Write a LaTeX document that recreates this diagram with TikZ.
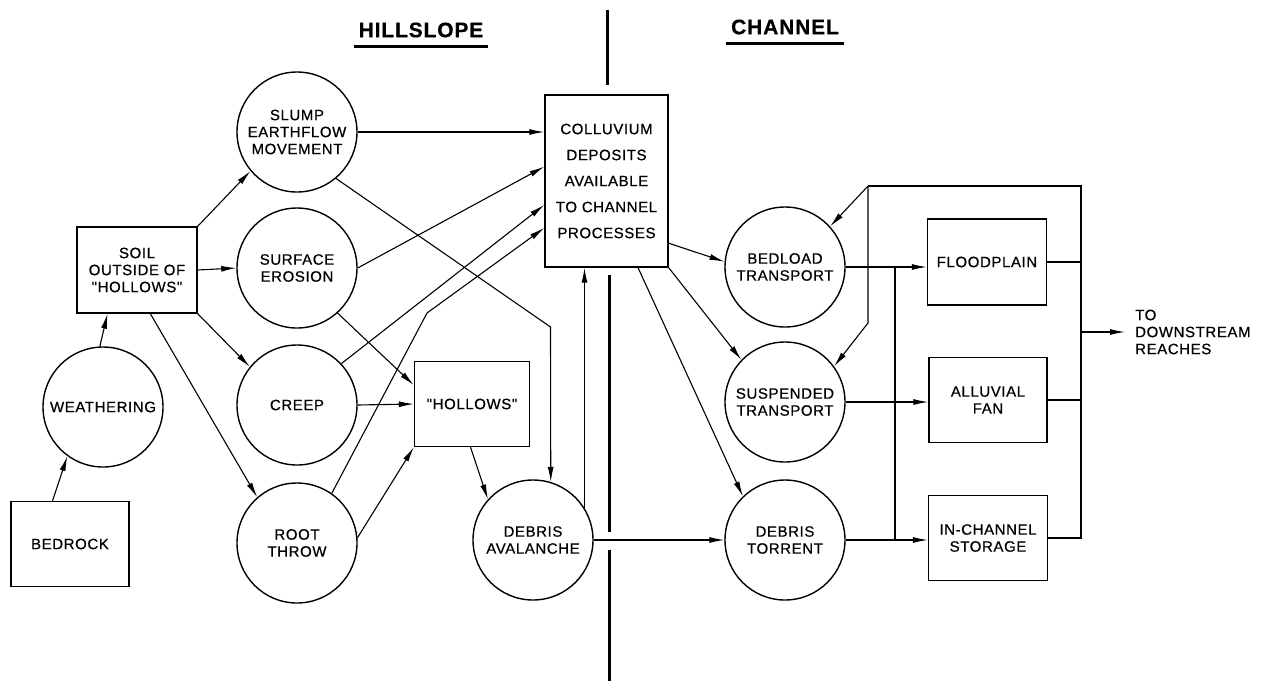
\documentclass[tikz,border=0pt]{standalone}
\usepackage{fontspec}
\newfontfamily\lettering[LetterSpace=4,FakeBold=0.6]{Liberation Sans}
\usetikzlibrary{arrows.meta}
\tikzset{
	proc/.style={draw, circle, line width=1.4pt, minimum size=120pt, inner sep=0pt, align=center, font=\lettering\fontsize{15}{17}\selectfont},
	store/.style={draw, rectangle, line width=1.4pt, inner sep=0pt, align=center, font=\lettering\fontsize{15}{17}\selectfont},
	flow/.style={line width=1.1pt, -{Latex[length=15pt,width=6pt]}},
	link/.style={line width=1.1pt},
	head/.style={inner xsep=5pt, inner ysep=9pt, font=\lettering\bfseries\fontsize{21}{24}\selectfont},
	bar/.style={line width=3pt},
}

\begin{document}
\begin{tikzpicture}[x=1pt,y=-1pt]
			\useasboundingbox (0,0) rectangle (1267,681);

			\node[head] (hill) at (421,30) {HILLSLOPE};
			\node[head] (chan) at (785,27) {CHANNEL};
			\draw[bar, line width=2.5pt] (hill.south west) -- (hill.south east);
			\draw[bar, line width=2.5pt] (chan.south west) -- (chan.south east);

			\draw[bar] (607,10) -- (607,85);
			\draw[bar] (609,275) -- (609,532);
			\draw[bar] (609,550) -- (609,681);

			\node[store, minimum width=118pt, minimum height=85pt] (bedrock) at (70,544) {BEDROCK};
			\node[proc] (weath) at (103,407) {WEATHERING};
			\node[store, minimum width=120pt, minimum height=86pt] (soil) at (137,270) {SOIL\\OUTSIDE OF\\"HOLLOWS"};
			\node[proc] (slump) at (297,132) {SLUMP\\EARTHFLOW\\MOVEMENT};
			\node[proc] (erosion) at (297,268) {SURFACE\\EROSION};
			\node[proc] (creep) at (297,405) {CREEP};
			\node[proc] (root) at (297,543) {ROOT\\THROW};
			\node[store, minimum width=115pt, minimum height=85pt] (hollows) at (472,404) {"HOLLOWS"};
			\node[proc] (aval) at (533,540) {DEBRIS\\AVALANCHE};
			\node[store, minimum width=123pt, minimum height=172pt, font=\lettering\fontsize{15}{26}\selectfont] (coll) at (606.5,181) {COLLUVIUM\\DEPOSITS\\AVAILABLE\\TO CHANNEL\\PROCESSES};

			\node[proc] (bedload) at (785,267) {BEDLOAD\\TRANSPORT};
			\node[proc] (susp) at (785,402) {SUSPENDED\\TRANSPORT};
			\node[proc] (torrent) at (785,540) {DEBRIS\\TORRENT};
			\node[store, minimum width=119pt, minimum height=86pt] (flood) at (987,262) {FLOODPLAIN};
			\node[store, minimum width=118pt, minimum height=85pt] (fan) at (988,400) {ALLUVIAL\\FAN};
			\node[store, minimum width=119pt, minimum height=85pt] (instore) at (988,538) {IN-CHANNEL\\STORAGE};
			\node[anchor=west, align=left, inner xsep=10pt, font=\lettering\fontsize{15}{17}\selectfont] (down) at (1125,332) {TO\\DOWNSTREAM\\REACHES};

			\coordinate (bendA) at (550.5,327);
			\coordinate (bendB) at (427,313);
			\coordinate (colA) at (895,267);
			\coordinate (colB) at (895,540);
			\coordinate (topL) at (868,186);
			\coordinate (topR) at (1081,186);
			\coordinate (midL) at (868,323);
			\coordinate (outA) at (1081,332);

			\draw[flow] (bedrock.112) -- (weath.234);
			\draw[flow] (weath.93) -- (soil.236);
			\draw[flow] (soil.north east) -- (slump.220);
			\draw[flow] (soil.east) -- (erosion.west);
			\draw[flow] (soil.south east) -- (creep.141);
			\draw[flow] (soil.287) -- (root.131);

			\draw[flow] (slump.east) -- (slump.east -| coll.west);
			\draw[flow] (slump.310) -- (bendA) -- (aval.73);
			\draw[flow] (erosion.east) -- (coll.167);
			\draw[flow] (erosion.312) -- (hollows.162);
			\draw[flow] (creep.43) -- (coll.201);
			\draw[flow] (creep.east) -- (hollows.west);
			\draw[flow] (root.55) -- (bendB) -- (coll.217);
			\draw[flow] (root.5) -- (hollows.south west);
			\draw[flow] (hollows.268) -- (aval.138);
			\draw[flow] (aval.32) -- (aval.32 |- coll.south);
			\draw[flow] (aval.east) -- (torrent.west);

			\draw[flow] (coll.315) -- (bedload.175);
			\draw[flow] (coll.south east) -- (susp.136);
			\draw[flow] (coll.290) -- (torrent.134);

			\draw[flow] (bedload.east) -- (bedload.east -| flood.west);
			\draw[flow] (susp.east) -- (susp.east -| fan.west);
			\draw[flow] (torrent.east) -- (torrent.east -| instore.west);
			\draw[link] (colA) -- (colB);

			\draw[link] (flood.east) -- (flood.east -| topR);
			\draw[link] (fan.east) -- (fan.east -| topR);
			\draw[link] (instore.east) -| (topR) -- (topL);
			\draw[flow] (topL) -- (bedload.42);
			\draw[flow] (topL) -- (midL) -- (susp.36);
			\draw[flow] (outA) -- (down.west);
		\end{tikzpicture}
\end{document}
